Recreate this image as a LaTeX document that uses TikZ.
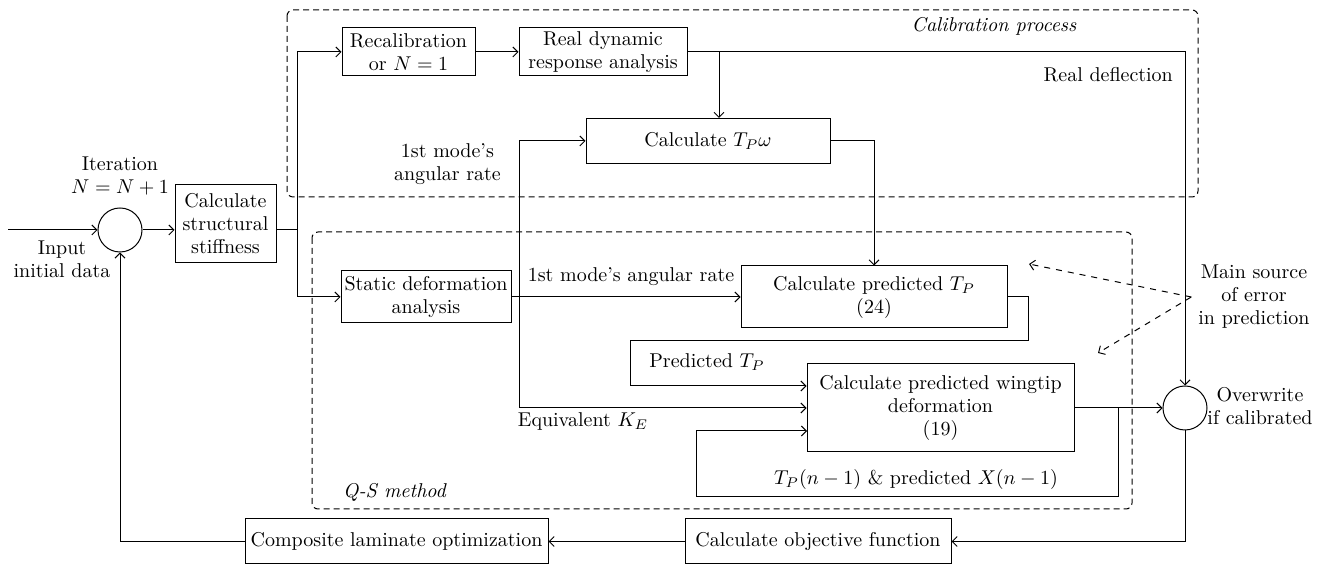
\documentclass[tikz,border=0pt]{standalone}
\usepackage{amsmath, amssymb}
\usepackage{tikz}
\usetikzlibrary{arrows.meta}

\begin{document}
\begin{tikzpicture}[x=0.5pt, y=-0.5pt, line width=0.5pt,
        >={Straight Barb[length=2.5pt, width=5pt]},
        font=\fontsize{10}{11.5}\selectfont,
        blk/.style={draw, align=center, inner sep=1pt},
        sum/.style={draw, circle, minimum size=22pt, inner sep=0pt},
        lbl/.style={align=center},
        grp/.style={dash pattern=on 3pt off 2pt, rounded corners=3pt}]
        \useasboundingbox (0,0) rectangle (1323,565);

        \draw[grp] (287,10) rectangle (1198,197);
        \draw[grp] (312,232) rectangle (1132,509);

        \node[sum] (iter) at (120,230) {};
        \node[blk, minimum width=50.5pt, minimum height=39pt] (stiff) at (225.5,224) {Calculate\\structural\\stiffness};
        \node[blk, minimum width=66.5pt, minimum height=24pt] (recal) at (408.5,52) {Recalibration\\or $N = 1$};
        \node[blk, minimum width=84pt, minimum height=24pt] (realdyn) at (603,52) {Real dynamic\\response analysis};
        \node[blk, minimum width=122pt, minimum height=22.5pt] (tpw) at (708,141) {Calculate $T_P\omega$};
        \node[blk, minimum width=85pt, minimum height=26pt] (static) at (426,297) {Static deformation\\analysis};
        \node[blk, minimum width=133pt, minimum height=31pt] (predtp) at (874,297) {Calculate predicted $T_P$\\(24)};
        \node[blk, minimum width=133.5pt, minimum height=44pt] (wing) at (940.5,408) {Calculate predicted wingtip\\deformation\\(19)};
        \node[sum] (over) at (1185,408) {};
        \node[blk, minimum width=133pt, minimum height=22.5pt] (obj) at (818,541.5) {Calculate objective function};
        \node[blk, minimum width=151.5pt, minimum height=22.5pt] (comp) at (396.5,541.5) {Composite laminate optimization};

        \coordinate (in) at (8,230);
        \coordinate (split) at (297,230);
        \coordinate (tap) at (719,52);
        \coordinate (vb) at (519,297);
        \coordinate (lp1) at (1028,341);
        \coordinate (lp2) at (630,386);
        \coordinate (fb) at (1118,408);
        \coordinate (fb2) at (696,497);
        \coordinate (w3) at (807,431);
        \coordinate (e1) at (1029,264);
        \coordinate (e2) at (1098,353);

        \node[lbl] (inlbl) at (62,259) {Input\\initial data};
        \node[lbl] (iterlbl) at (120,176) {Iteration\\$N = N + 1$};
        \node[lbl] (callbl) at (994,26) {\itshape Calibration process};
        \node[lbl, anchor=east] (deflbl) at (1180,75) {Real deflection};
        \node[lbl, anchor=east] (w1lbl) at (508,164) {1st mode's\\angular rate};
        \node[lbl] (w2lbl) at (631,277) {1st mode's angular rate};
        \node[lbl] (ptplbl) at (707,362) {Predicted $T_P$};
        \node[lbl] (kelbl) at (583,422) {Equivalent $K_E$};
        \node[lbl] (prevlbl) at (916,480) {$T_P(n-1)$ \& predicted $X(n-1)$};
        \node[lbl, anchor=west] (qslbl) at (336,492) {\itshape Q-S method};
        \node[lbl] (msrc) at (1254,297) {Main source\\of error\\in prediction};
        \node[lbl] (ovlbl) at (1260,406) {Overwrite\\if calibrated};

        \draw[->] (in) -- (iter);
        \draw[->] (iter) -- (iter -| stiff.west);
        \draw (stiff.east |- iter) -- (split);
        \draw[->] (split) |- (recal);
        \draw[->] (split) |- (static);
        \draw[->] (recal) -- (realdyn);
        \draw[->] (realdyn) -| (over);
        \draw[->] (tap) -- (tap |- tpw.north);
        \draw[->] (vb) |- (tpw);
        \draw[->] (vb) |- (wing);
        \draw[->] (static) -- (predtp);
        \draw[->] (tpw) -| (predtp);
        \draw[->] (predtp.east) -| (lp1) -| (lp2) -- (lp2 -| wing.west);
        \draw[->] (wing) -- (over);
        \draw[->] (fb) |- (fb2) |- (w3);
        \draw[->] (over) |- (obj);
        \draw[->] (obj) -- (comp);
        \draw[->] (comp) -| (iter);
        \draw[dashed, ->] (msrc.west) -- (e1);
        \draw[dashed, ->] (msrc.west) -- (e2);
\end{tikzpicture}
\end{document}
